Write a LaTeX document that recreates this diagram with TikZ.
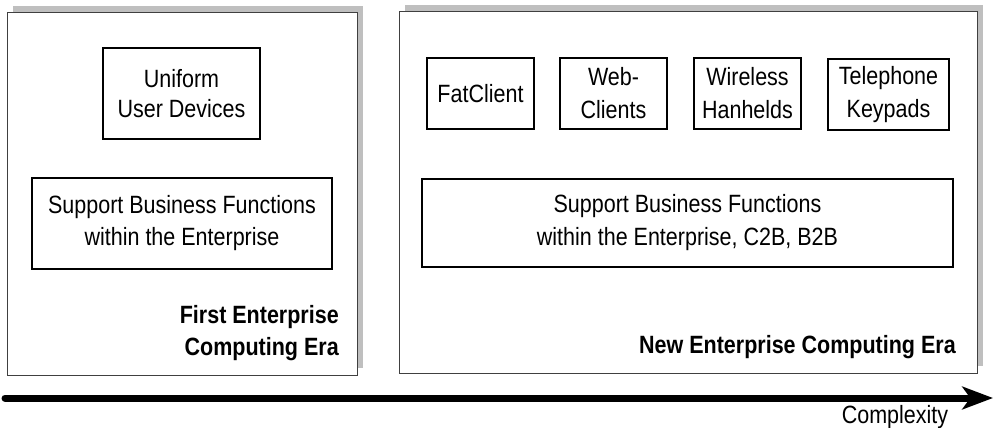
\documentclass[tikz,border=0pt]{standalone}
\usepackage{fontspec}
\setmainfont{Liberation Sans}[FakeStretch=0.86]
\usetikzlibrary{arrows.meta,shadows}
\tikzset{
  era/.style={draw=black!75,line width=0.75pt,fill=white,inner sep=0pt,
    drop shadow={shadow xshift=4.5pt,shadow yshift=5.25pt,fill=black!25,opacity=1}},
  box/.style={draw,line width=1pt,align=center,inner sep=0pt,minimum height=53.25pt,
    font=\fontsize{18.75pt}{24.75pt}\selectfont},
  erabel/.style={font=\fontsize{18.75pt}{24pt}\selectfont\bfseries,align=right,anchor=east,inner sep=0pt},
}
\begin{document}
\begin{tikzpicture}[x=0.75pt,y=-0.75pt,font=\fontsize{18.75pt}{22.5pt}\selectfont]
        \useasboundingbox (0,0) rectangle (993,428);
        \node[era,minimum width=262.5pt,minimum height=271.5pt] (first) at (182,194) {};
        \node[era,minimum width=433.5pt,minimum height=270.75pt] (new) at (688,192.5) {};
        \node[box,minimum width=117.75pt,minimum height=68.25pt,font=\fontsize{18.75pt}{22.5pt}\selectfont] (uniform) at (181.5,93.5) {Uniform\\User Devices};
        \node[box,minimum width=225pt,minimum height=68.25pt,font=\fontsize{18.75pt}{24pt}\selectfont] (supfirst) at (182,223.5) {Support Business Functions\\within the Enterprise};
        \node[erabel] (firstlab) at (339,333) {First Enterprise\\Computing Era};
        \node[box,minimum width=80.25pt] (fat) at (480.5,93.5) {FatClient};
        \node[box,minimum width=80.25pt] (web) at (613.5,93.5) {Web-\\Clients};
        \node[box,minimum width=80.25pt] (wireless) at (747.5,93.5) {Wireless\\Hanhelds};
        \node[box,minimum width=90.75pt] (phone) at (888.5,94.5) {Telephone\\Keypads};
        \node[box,minimum width=398.25pt,minimum height=66pt] (supnew) at (687.5,223) {Support Business Functions\\within the Enterprise, C2B, B2B};
        \node[erabel] (newlab) at (956,347) {New Enterprise Computing Era};
        \coordinate (axstart) at (5,398);
        \coordinate (axend) at (993,398);
        \draw[line width=5.25pt,line cap=round,-{Stealth[length=23pt,width=17pt,inset=6pt]}] (axstart) -- (axend);
        \node[anchor=base,inner sep=0pt] (cplx) at (895,423) {Complexity};
    \end{tikzpicture}
\end{document}
